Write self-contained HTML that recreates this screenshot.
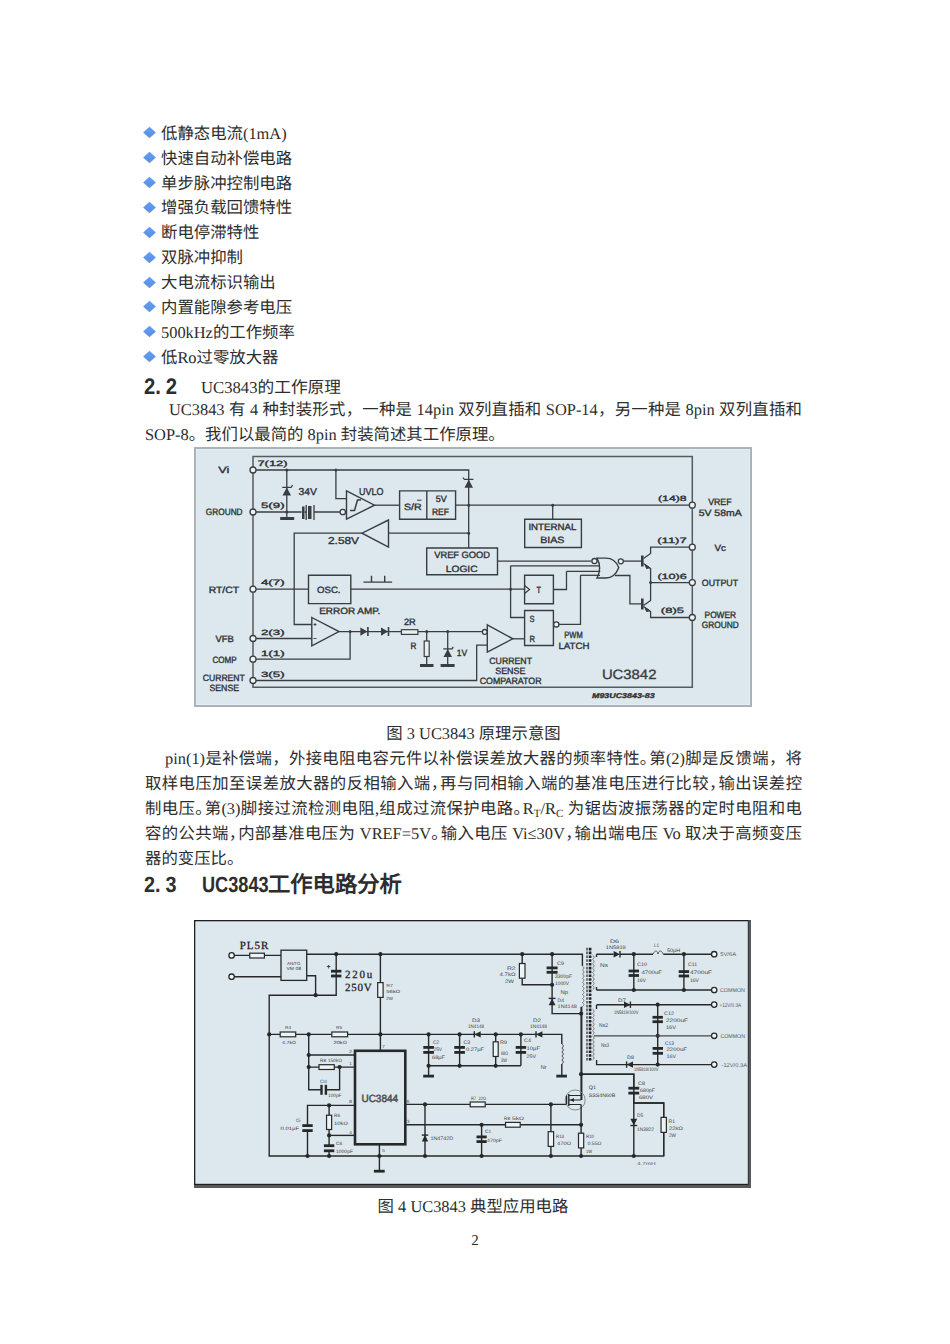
<!DOCTYPE html>
<html lang="zh-CN">
<head>
<meta charset="utf-8">
<style>
html,body{margin:0;padding:0;background:#fff;}
body{width:950px;height:1344px;position:relative;overflow:hidden;text-rendering:geometricPrecision;font-family:"Liberation Serif",serif;color:#2d2d2d;}
.l{position:absolute;left:145px;white-space:nowrap;font-size:16.4px;line-height:20px;height:20px;}
.j{width:657px;text-align:justify;text-align-last:justify;}
.dia{position:absolute;left:143px;width:12.7px;height:12px;}
.dia::before{content:"";position:absolute;left:1.85px;top:1.5px;width:9px;height:9px;background:linear-gradient(135deg,#64a0f5 0%,#5a92ea 65%,#7f95a8 100%);transform:scaleY(0.92) rotate(45deg);}
.hd{position:absolute;left:144px;white-space:nowrap;font-family:"Liberation Sans",sans-serif;font-weight:bold;font-size:22px;line-height:26px;height:26px;}
.h{font-family:"Liberation Sans",sans-serif;}
.c{left:0;width:950px;text-align:center;}
.p{letter-spacing:-0.45em;}
sub{font-size:11px;vertical-align:-2.5px;line-height:0;}
svg{position:absolute;display:block;}
</style>
</head>
<body>
<div class="dia" style="top:126.8px"></div>
<div class="l" style="left:161px;top:123.8px">低静态电流(1mA)</div>
<div class="dia" style="top:151.7px"></div>
<div class="l" style="left:161px;top:148.6px">快速自动补偿电路</div>
<div class="dia" style="top:176.5px"></div>
<div class="l" style="left:161px;top:173.5px">单步脉冲控制电路</div>
<div class="dia" style="top:201.4px"></div>
<div class="l" style="left:161px;top:198.4px">增强负载回馈特性</div>
<div class="dia" style="top:226.3px"></div>
<div class="l" style="left:161px;top:223.2px">断电停滞特性</div>
<div class="dia" style="top:251.2px"></div>
<div class="l" style="left:161px;top:248.1px">双脉冲抑制</div>
<div class="dia" style="top:276.0px"></div>
<div class="l" style="left:161px;top:273.0px">大电流标识输出</div>
<div class="dia" style="top:300.9px"></div>
<div class="l" style="left:161px;top:297.9px">内置能隙参考电压</div>
<div class="dia" style="top:325.8px"></div>
<div class="l" style="left:161px;top:322.7px">500kHz的工作频率</div>
<div class="dia" style="top:350.6px"></div>
<div class="l" style="left:161px;top:347.6px">低Ro过零放大器</div>
<div class="hd" style="top:373.9px;font-size:22.5px;transform:scaleX(0.9);transform-origin:0 0">2.<span style="margin-left:5.5px">2</span></div>
<div class="l" style="left:201px;font-size:16.7px;top:377.8px">UC3843的工作原理</div>
<div class="l j" style="left:169px;width:633px;top:399.9px">UC3843 有 4 种封装形式，一种是 14pin 双列直插和 SOP-14，另一种是 8pin 双列直插和</div>
<div class="l" style="top:425.0px">SOP-8。我们以最简的 8pin 封装简述其工作原理。</div>
<div class="l c" style="left:-1.5px;top:723.9px">图 3 UC3843 原理示意图</div>
<div class="l j" style="left:165px;width:637px;top:749.0px">pin(1)是补偿端，外接电阻电容元件以补偿误差放大器的频率特性<span class=p>。</span>第(2)脚是反馈端，将</div>
<div class="l j" style="top:773.8px">取样电压加至误差放大器的反相输入端<span class=p>，</span>再与同相输入端的基准电压进行比较<span class=p>，</span>输出误差控</div>
<div class="l j" style="top:798.9px">制电压<span class=p>。</span>第(3)脚接过流检测电阻,组成过流保护电路<span class=p>。</span>R<sub>T</sub>/R<sub>C</sub> 为锯齿波振荡器的定时电阻和电</div>
<div class="l j" style="top:823.7px">容的公共端<span class=p>，</span>内部基准电压为 VREF=5V<span class=p>。</span>输入电压 Vi≤30V<span class=p>，</span>输出端电压 Vo 取决于高频变压</div>
<div class="l" style="top:848.5px">器的变压比。</div>
<div class="hd" style="top:871.9px;font-size:22px;transform:scaleX(0.9);transform-origin:0 0">2.<span style="margin-left:5.5px">3</span></div>
<div class="hd" style="left:201.5px;top:871.9px;font-size:22px;transform:scaleX(0.825);transform-origin:0 0">UC3843</div>
<div class="hd" style="left:268px;top:872.2px;font-size:22.3px">工作电路分析</div>
<div class="l c" style="left:-2px;top:1196.9px">图 4 UC3843 典型应用电路</div>
<div class="l c" style="font-size:15px;top:1230.5px">2</div>
<svg style="left:194px;top:447px" width="558" height="260" viewBox="194 447 558 260" font-family="Liberation Sans, sans-serif"><rect x="194" y="447" width="558" height="260" fill="#abb3b8"/><rect x="196" y="449" width="554" height="256" fill="#e4edf1"/><rect x="197" y="450" width="552" height="254" fill="#dde8ee"/><path d="M253 456.5H692.3V687.3H253Z" stroke="#555a5e" stroke-width="1.5" fill="none"/><path d="M253 470H468.7V548" stroke="#3a3d40" stroke-width="1.3" fill="none"/><circle cx="286.8" cy="470" r="1.5" fill="#3a3d40"/><circle cx="335.9" cy="470" r="1.5" fill="#3a3d40"/><path d="M286.8 470V512" stroke="#3a3d40" stroke-width="1.3" fill="none"/><path d="M282.5 495.5H291L286.8 487.5Z" fill="#3a3d40"/><path d="M282.3 487.3H291.3M291.3 487.3l1.2 -2.2" stroke="#3a3d40" stroke-width="1.3" fill="none"/><text x="298.6" y="494.8" font-size="10" font-weight="normal" fill="#2e3134" stroke="#2e3134" stroke-width="0.35" textLength="18.4" lengthAdjust="spacingAndGlyphs" >34V</text><path d="M253 512H301.6" stroke="#3a3d40" stroke-width="1.3" fill="none"/><circle cx="286.8" cy="512" r="1.5" fill="#3a3d40"/><rect x="280.2" y="517" width="14" height="3" fill="#3a3d40"/><path d="M286.8 512V518" stroke="#3a3d40" stroke-width="1.3" fill="none"/><rect x="302" y="506.5" width="2.5" height="12.5" fill="#3a3d40"/><rect x="308" y="506" width="3.5" height="13" fill="#3a3d40"/><path d="M306.2 505V520" stroke="#3a3d40" stroke-width="1.3" fill="none"/><path d="M314 505V520" stroke="#3a3d40" stroke-width="1.3" fill="none"/><path d="M304.5 512H306.2M314 512H339.8" stroke="#3a3d40" stroke-width="1.3" fill="none"/><circle cx="342.8" cy="512" r="2.7" fill="#eef3f6" stroke="#3a3d40" stroke-width="1.3"/><path d="M335.9 470V498.6H346.5" stroke="#3a3d40" stroke-width="1.3" fill="none"/><path d="M346.5 490.9L374.5 505.2L346.5 519.2Z" stroke="#3a3d40" stroke-width="1.4" fill="none"/><path d="M350 510.5H354.5L357.5 500H361" stroke="#3a3d40" stroke-width="1.5" fill="none"/><text x="359" y="494.8" font-size="10" font-weight="normal" fill="#2e3134" stroke="#2e3134" stroke-width="0.35" textLength="24.4" lengthAdjust="spacingAndGlyphs" >UVLO</text><path d="M374.5 505.2H399.6" stroke="#3a3d40" stroke-width="1.3" fill="none"/><path d="M399.6 490.9H455.6V519.2H399.6Z" stroke="#3a3d40" stroke-width="1.4" fill="none"/><path d="M426.8 490.9V519.2" stroke="#3a3d40" stroke-width="1.4" fill="none"/><text x="404" y="509.9" font-size="9.2" font-weight="normal" fill="#2e3134" stroke="#2e3134" stroke-width="0.35" textLength="17.7" lengthAdjust="spacingAndGlyphs" >S/R</text><path d="M417 500.2H421.5" stroke="#3a3d40" stroke-width="1" fill="none"/><text x="435.7" y="502.0" font-size="9.2" font-weight="normal" fill="#2e3134" stroke="#2e3134" stroke-width="0.35" textLength="11.0" lengthAdjust="spacingAndGlyphs" >5V</text><text x="432" y="515.2" font-size="9.2" font-weight="normal" fill="#2e3134" stroke="#2e3134" stroke-width="0.35" textLength="16.9" lengthAdjust="spacingAndGlyphs" >REF</text><path d="M455.6 505.2H689.3" stroke="#3a3d40" stroke-width="1.3" fill="none"/><circle cx="468.7" cy="505.2" r="1.5" fill="#3a3d40"/><circle cx="468.7" cy="533.2" r="1.5" fill="#3a3d40"/><circle cx="552.7" cy="505.2" r="1.5" fill="#3a3d40"/><path d="M464.5 487.8H473L468.7 479.5Z" fill="#3a3d40"/><path d="M464 479.3H473.4M464 479.3l-1 -1.8" stroke="#3a3d40" stroke-width="1.3" fill="none"/><path d="M468.7 533.2H388.5" stroke="#3a3d40" stroke-width="1.3" fill="none"/><path d="M388.5 520L362 533.2L388.5 547.2Z" stroke="#3a3d40" stroke-width="1.4" fill="none"/><path d="M362 533.2H294.2V624.5H311.9" stroke="#3a3d40" stroke-width="1.3" fill="none"/><text x="328" y="544.2" font-size="10" font-weight="normal" fill="#2e3134" stroke="#2e3134" stroke-width="0.35" textLength="31.0" lengthAdjust="spacingAndGlyphs" >2.58V</text><path d="M552.7 505.2V519.2" stroke="#3a3d40" stroke-width="1.3" fill="none"/><path d="M524.7 519.2H581.4V547.5H524.7Z" stroke="#3a3d40" stroke-width="1.4" fill="none"/><text x="528.4" y="530.0" font-size="9.2" font-weight="normal" fill="#2e3134" stroke="#2e3134" stroke-width="0.35" textLength="47.9" lengthAdjust="spacingAndGlyphs" >INTERNAL</text><text x="540.2" y="543.2" font-size="9.2" font-weight="normal" fill="#2e3134" stroke="#2e3134" stroke-width="0.35" textLength="24.3" lengthAdjust="spacingAndGlyphs" >BIAS</text><path d="M426.7 548H497.5V574.7H426.7Z" stroke="#3a3d40" stroke-width="1.4" fill="none"/><text x="434.2" y="558.0" font-size="9.2" font-weight="normal" fill="#2e3134" stroke="#2e3134" stroke-width="0.35" textLength="55.9" lengthAdjust="spacingAndGlyphs" >VREF GOOD</text><text x="445.8" y="572.1" font-size="9.2" font-weight="normal" fill="#2e3134" stroke="#2e3134" stroke-width="0.35" textLength="31.7" lengthAdjust="spacingAndGlyphs" >LOGIC</text><path d="M497.5 561.1H591.5" stroke="#3a3d40" stroke-width="1.3" fill="none"/><circle cx="594.5" cy="561.1" r="2.6" fill="#eef3f6" stroke="#3a3d40" stroke-width="1.3"/><circle cx="692.3" cy="505.2" r="3.0" fill="#eef3f6" stroke="#3a3d40" stroke-width="1.3"/><text x="658" y="501.4" font-size="7.6" font-weight="normal" fill="#2e3134" stroke="#2e3134" stroke-width="0.35" textLength="28.7" lengthAdjust="spacingAndGlyphs" >(14)8</text><text x="708.2" y="505.4" font-size="9.2" font-weight="normal" fill="#2e3134" stroke="#2e3134" stroke-width="0.35" textLength="23.4" lengthAdjust="spacingAndGlyphs" >VREF</text><text x="698.7" y="516.1" font-size="9.2" font-weight="normal" fill="#2e3134" stroke="#2e3134" stroke-width="0.35" textLength="43.0" lengthAdjust="spacingAndGlyphs" >5V 58mA</text><circle cx="692.3" cy="547.2" r="3.0" fill="#eef3f6" stroke="#3a3d40" stroke-width="1.3"/><text x="657.3" y="543.4" font-size="7.6" font-weight="normal" fill="#2e3134" stroke="#2e3134" stroke-width="0.35" textLength="29.4" lengthAdjust="spacingAndGlyphs" >(11)7</text><text x="714.5" y="550.8" font-size="9.2" font-weight="normal" fill="#2e3134" stroke="#2e3134" stroke-width="0.35" textLength="11.4" lengthAdjust="spacingAndGlyphs" >Vc</text><circle cx="692.3" cy="582.6" r="3.0" fill="#eef3f6" stroke="#3a3d40" stroke-width="1.3"/><text x="657.4" y="578.5" font-size="7.6" font-weight="normal" fill="#2e3134" stroke="#2e3134" stroke-width="0.35" textLength="29.4" lengthAdjust="spacingAndGlyphs" >(10)6</text><text x="701.8" y="586.0" font-size="9.2" font-weight="normal" fill="#2e3134" stroke="#2e3134" stroke-width="0.35" textLength="36.3" lengthAdjust="spacingAndGlyphs" >OUTPUT</text><circle cx="692.3" cy="617.5" r="3.0" fill="#eef3f6" stroke="#3a3d40" stroke-width="1.3"/><text x="660.8" y="613.4" font-size="7.6" font-weight="normal" fill="#2e3134" stroke="#2e3134" stroke-width="0.35" textLength="23.2" lengthAdjust="spacingAndGlyphs" >(8)5</text><text x="704.6" y="618.1" font-size="9.2" font-weight="normal" fill="#2e3134" stroke="#2e3134" stroke-width="0.35" textLength="31.4" lengthAdjust="spacingAndGlyphs" >POWER</text><text x="701.8" y="627.7" font-size="9.2" font-weight="normal" fill="#2e3134" stroke="#2e3134" stroke-width="0.35" textLength="37.0" lengthAdjust="spacingAndGlyphs" >GROUND</text><path d="M689.3 547.2H650.6V553.5L643.5 558.5" stroke="#3a3d40" stroke-width="1.3" fill="none"/><path d="M619.7 561.1H642" stroke="#3a3d40" stroke-width="1.3" fill="none"/><rect x="641" y="555.5" width="2.6" height="11" fill="#3a3d40"/><path d="M643.5 563.5L650.6 568.5V600.5L643.5 605.5" stroke="#3a3d40" stroke-width="1.3" fill="none"/><path d="M645 564.5L650 567.8L646.5 568.5Z" fill="#3a3d40" stroke="#3a3d40" stroke-width="1"/><circle cx="650.6" cy="582.6" r="1.5" fill="#3a3d40"/><path d="M650.6 582.6H689.3" stroke="#3a3d40" stroke-width="1.3" fill="none"/><path d="M615 575.5H629.9V603.8H642" stroke="#3a3d40" stroke-width="1.3" fill="none"/><rect x="641" y="598.5" width="2.6" height="11" fill="#3a3d40"/><path d="M643.5 606.5L650.6 611.5V617.5H689.3" stroke="#3a3d40" stroke-width="1.3" fill="none"/><path d="M645 607.5L650 610.8L646.5 611.5Z" fill="#3a3d40" stroke="#3a3d40" stroke-width="1"/><path d="M597 558.1H606C612 558.1 616.5 562 618.8 567.5C616.5 573.5 612 578 606 578H597C600.5 572 600.5 564 597 558.1Z" stroke="#3a3d40" stroke-width="1.4" fill="none"/><circle cx="620.8" cy="561.3" r="2.5" fill="#eef3f6" stroke="#3a3d40" stroke-width="1.3"/><path d="M510.6 565.8H599.5" stroke="#3a3d40" stroke-width="1.3" fill="none"/><path d="M566.5 571.4H600.3" stroke="#3a3d40" stroke-width="1.3" fill="none"/><path d="M580.5 575.3H600" stroke="#3a3d40" stroke-width="1.3" fill="none"/><circle cx="253" cy="589.2" r="3.0" fill="#eef3f6" stroke="#3a3d40" stroke-width="1.3"/><text x="208.7" y="592.6" font-size="9.2" font-weight="normal" fill="#2e3134" stroke="#2e3134" stroke-width="0.35" textLength="30.3" lengthAdjust="spacingAndGlyphs" >RT/CT</text><text x="261" y="585.3" font-size="7.6" font-weight="normal" fill="#2e3134" stroke="#2e3134" stroke-width="0.35" textLength="23.6" lengthAdjust="spacingAndGlyphs" >4(7)</text><path d="M256 589.2H308.5" stroke="#3a3d40" stroke-width="1.3" fill="none"/><path d="M308.5 575.2H350.8V603.6H308.5Z" stroke="#3a3d40" stroke-width="1.4" fill="none"/><text x="317" y="593.3" font-size="9.2" font-weight="normal" fill="#2e3134" stroke="#2e3134" stroke-width="0.35" textLength="23.5" lengthAdjust="spacingAndGlyphs" >OSC.</text><path d="M350.8 589.2H524.6" stroke="#3a3d40" stroke-width="1.3" fill="none"/><path d="M363.4 582.1H392.1M371.5 582.1V575.8M384.7 582.1V575.8" stroke="#3a3d40" stroke-width="1.4" fill="none"/><circle cx="510.6" cy="589.2" r="1.5" fill="#3a3d40"/><path d="M510.6 565.8V617.5H524.6" stroke="#3a3d40" stroke-width="1.3" fill="none"/><path d="M524.6 575.2H553.4V603.8H524.6Z" stroke="#3a3d40" stroke-width="1.4" fill="none"/><path d="M524.6 585.5L529.5 589.5L524.6 593.5" stroke="#3a3d40" stroke-width="1.2" fill="none"/><text x="536.5" y="592.8" font-size="9" font-weight="normal" fill="#2e3134" stroke="#2e3134" stroke-width="0.35" textLength="4.5" lengthAdjust="spacingAndGlyphs" >T</text><path d="M553.4 589.5H566.5V571.4" stroke="#3a3d40" stroke-width="1.3" fill="none"/><path d="M524.6 610.5H553.4V645.5H524.6Z" stroke="#3a3d40" stroke-width="1.4" fill="none"/><text x="529.5" y="621.5" font-size="9" font-weight="normal" fill="#2e3134" stroke="#2e3134" stroke-width="0.35" textLength="5.0" lengthAdjust="spacingAndGlyphs" >S</text><text x="529.5" y="642.1" font-size="9" font-weight="normal" fill="#2e3134" stroke="#2e3134" stroke-width="0.35" textLength="5.5" lengthAdjust="spacingAndGlyphs" >R</text><circle cx="556.3" cy="624.4" r="2.6" fill="#eef3f6" stroke="#3a3d40" stroke-width="1.3"/><path d="M559 624.4H580.5V575.3" stroke="#3a3d40" stroke-width="1.3" fill="none"/><text x="564.3" y="638.1" font-size="9.2" font-weight="normal" fill="#2e3134" stroke="#2e3134" stroke-width="0.35" textLength="18.4" lengthAdjust="spacingAndGlyphs" >PWM</text><text x="558.4" y="649.2" font-size="9.2" font-weight="normal" fill="#2e3134" stroke="#2e3134" stroke-width="0.35" textLength="31.0" lengthAdjust="spacingAndGlyphs" >LATCH</text><text x="319.2" y="614.4" font-size="9.2" font-weight="normal" fill="#2e3134" stroke="#2e3134" stroke-width="0.35" textLength="61.1" lengthAdjust="spacingAndGlyphs" >ERROR AMP.</text><path d="M311.8 617.5L339 631.6L311.8 645.9Z" stroke="#3a3d40" stroke-width="1.4" fill="none"/><path d="M313.5 624.5h3M315 623v3M313.5 638.5h3" stroke="#3a3d40" stroke-width="0.9" fill="none"/><circle cx="253" cy="638.5" r="3.0" fill="#eef3f6" stroke="#3a3d40" stroke-width="1.3"/><text x="215.4" y="641.9" font-size="9.2" font-weight="normal" fill="#2e3134" stroke="#2e3134" stroke-width="0.35" textLength="18.4" lengthAdjust="spacingAndGlyphs" >VFB</text><text x="261" y="634.7" font-size="7.6" font-weight="normal" fill="#2e3134" stroke="#2e3134" stroke-width="0.35" textLength="23.6" lengthAdjust="spacingAndGlyphs" >2(3)</text><path d="M256 638.5H311.8" stroke="#3a3d40" stroke-width="1.3" fill="none"/><path d="M339 631.6H482" stroke="#3a3d40" stroke-width="1.3" fill="none"/><circle cx="350.1" cy="631.6" r="1.5" fill="#3a3d40"/><path d="M350.1 631.6V659.2H256" stroke="#3a3d40" stroke-width="1.3" fill="none"/><circle cx="253" cy="659.2" r="3.0" fill="#eef3f6" stroke="#3a3d40" stroke-width="1.3"/><text x="212.4" y="662.6" font-size="9.2" font-weight="normal" fill="#2e3134" stroke="#2e3134" stroke-width="0.35" textLength="24.3" lengthAdjust="spacingAndGlyphs" >COMP</text><text x="261" y="656.1" font-size="7.6" font-weight="normal" fill="#2e3134" stroke="#2e3134" stroke-width="0.35" textLength="23.6" lengthAdjust="spacingAndGlyphs" >1(1)</text><path d="M360.4 627.5L367.4 631.6L360.4 635.7Z" fill="#3a3d40"/><path d="M367.9 627V636" stroke="#3a3d40" stroke-width="1.6" fill="none"/><path d="M381 627.5L388 631.6L381 635.7Z" fill="#3a3d40"/><path d="M388.5 627V636" stroke="#3a3d40" stroke-width="1.6" fill="none"/><rect x="401.4" y="629.7" width="16.5" height="4.7" fill="#e8eff3" stroke="#3a3d40" stroke-width="1.2"/><text x="403.9" y="625.0" font-size="9.2" font-weight="normal" fill="#2e3134" stroke="#2e3134" stroke-width="0.35" textLength="11.8" lengthAdjust="spacingAndGlyphs" >2R</text><circle cx="426.7" cy="631.6" r="1.5" fill="#3a3d40"/><circle cx="447.7" cy="631.6" r="1.5" fill="#3a3d40"/><path d="M426.7 631.6V666M447.7 631.6V666" stroke="#3a3d40" stroke-width="1.3" fill="none"/><rect x="424.2" y="641" width="5" height="15.5" fill="#e8eff3" stroke="#3a3d40" stroke-width="1.2"/><text x="410.5" y="649.3" font-size="9.2" font-weight="normal" fill="#2e3134" stroke="#2e3134" stroke-width="0.35" textLength="5.9" lengthAdjust="spacingAndGlyphs" >R</text><rect x="420" y="664" width="13.5" height="3" fill="#3a3d40"/><rect x="440.6" y="664" width="14" height="3" fill="#3a3d40"/><path d="M443.5 657H452L447.7 649Z" fill="#3a3d40"/><path d="M443.3 648.8H452.2l1 -2" stroke="#3a3d40" stroke-width="1.3" fill="none"/><text x="456.8" y="656.2" font-size="9.2" font-weight="normal" fill="#2e3134" stroke="#2e3134" stroke-width="0.35" textLength="10.4" lengthAdjust="spacingAndGlyphs" >1V</text><circle cx="484.8" cy="631.9" r="2.4" fill="#eef3f6" stroke="#3a3d40" stroke-width="1.3"/><path d="M487.3 624.8L512.8 638.8L487.3 652.1Z" stroke="#3a3d40" stroke-width="1.4" fill="none"/><path d="M512.8 638.8H524.6" stroke="#3a3d40" stroke-width="1.3" fill="none"/><path d="M487.3 645.2H476.7V680.5H256" stroke="#3a3d40" stroke-width="1.3" fill="none"/><circle cx="253" cy="680.5" r="3.0" fill="#eef3f6" stroke="#3a3d40" stroke-width="1.3"/><text x="202.8" y="681.0" font-size="9.2" font-weight="normal" fill="#2e3134" stroke="#2e3134" stroke-width="0.35" textLength="42.0" lengthAdjust="spacingAndGlyphs" >CURRENT</text><text x="209.5" y="691.3" font-size="9.2" font-weight="normal" fill="#2e3134" stroke="#2e3134" stroke-width="0.35" textLength="29.5" lengthAdjust="spacingAndGlyphs" >SENSE</text><text x="261" y="676.7" font-size="7.6" font-weight="normal" fill="#2e3134" stroke="#2e3134" stroke-width="0.35" textLength="23.6" lengthAdjust="spacingAndGlyphs" >3(5)</text><text x="489.3" y="663.6" font-size="9.2" font-weight="normal" fill="#2e3134" stroke="#2e3134" stroke-width="0.35" textLength="42.7" lengthAdjust="spacingAndGlyphs" >CURRENT</text><text x="495.2" y="673.9" font-size="9.2" font-weight="normal" fill="#2e3134" stroke="#2e3134" stroke-width="0.35" textLength="30.2" lengthAdjust="spacingAndGlyphs" >SENSE</text><text x="479.7" y="684.2" font-size="9.2" font-weight="normal" fill="#2e3134" stroke="#2e3134" stroke-width="0.35" textLength="61.9" lengthAdjust="spacingAndGlyphs" >COMPARATOR</text><text x="601.9" y="679.1" font-size="13.5" font-weight="normal" fill="#3a3d40" stroke="#3a3d40" stroke-width="0.35" textLength="54.5" lengthAdjust="spacingAndGlyphs" >UC3842</text><circle cx="253" cy="470" r="3.0" fill="#eef3f6" stroke="#3a3d40" stroke-width="1.3"/><circle cx="253" cy="512" r="3.0" fill="#eef3f6" stroke="#3a3d40" stroke-width="1.3"/><text x="218.3" y="473.4" font-size="9.2" font-weight="normal" fill="#2e3134" stroke="#2e3134" stroke-width="0.35" textLength="11.1" lengthAdjust="spacingAndGlyphs" >Vi</text><text x="257.4" y="466.0" font-size="7.6" font-weight="normal" fill="#2e3134" stroke="#2e3134" stroke-width="0.35" textLength="30.2" lengthAdjust="spacingAndGlyphs" >7(12)</text><text x="205.8" y="515.4" font-size="9.2" font-weight="normal" fill="#2e3134" stroke="#2e3134" stroke-width="0.35" textLength="36.8" lengthAdjust="spacingAndGlyphs" >GROUND</text><text x="261" y="508.0" font-size="7.6" font-weight="normal" fill="#2e3134" stroke="#2e3134" stroke-width="0.35" textLength="23.6" lengthAdjust="spacingAndGlyphs" >5(9)</text><text x="592" y="697.6" font-size="7" font-weight="bold" fill="#333" stroke="#333" stroke-width="0.35" textLength="62.7" lengthAdjust="spacingAndGlyphs" font-style="italic">M93UC3843-83</text></svg>
<svg style="left:194px;top:920px" width="558" height="269" viewBox="194 920 558 269" font-family="Liberation Sans, sans-serif"><rect x="194" y="920" width="557" height="268" fill="#55595c"/><rect x="194" y="920" width="554.5" height="265" fill="#1e1f20"/><rect x="195.3" y="921.3" width="552.5" height="262.5" fill="#dde8ee"/><circle cx="231.6" cy="955.4" r="2.7" fill="#f2f6f8" stroke="#262829" stroke-width="1.3"/><circle cx="231.6" cy="976.7" r="2.7" fill="#f2f6f8" stroke="#262829" stroke-width="1.3"/><path d="M234.3 955.4H249.7M264.4 955.4H281" stroke="#262829" stroke-width="1.4" fill="none"/><rect x="249.7" y="953.2" width="14.699999999999989" height="4.8" fill="#eef3f6" stroke="#262829" stroke-width="1.2"/><path d="M234.3 976.7H281" stroke="#262829" stroke-width="1.4" fill="none"/><rect x="281" y="950.2" width="25.7" height="30.2" fill="none" stroke="#262829" stroke-width="1.3"/><text x="287" y="965.1" font-size="4.5" font-weight="normal" fill="#3c3c3c" textLength="13.5" lengthAdjust="spacingAndGlyphs" >AN/TG</text><text x="286.5" y="969.6" font-size="4.5" font-weight="normal" fill="#3c3c3c" textLength="14.5" lengthAdjust="spacingAndGlyphs" >VM 08</text><text x="239.7" y="948.8" font-size="11" font-weight="normal" fill="#1a1a1a" textLength="28.7" lengthAdjust="spacing" font-family="Liberation Serif" stroke="#1a1a1a" stroke-width="0.25">PL5R</text><path d="M306.7 954.2H582.4V966" stroke="#262829" stroke-width="1.4" fill="none"/><path d="M306.7 975.7H315.6V995.2" stroke="#262829" stroke-width="1.4" fill="none"/><circle cx="315.6" cy="995.2" r="2.1" fill="#262829"/><circle cx="336.2" cy="954.2" r="2.1" fill="#262829"/><circle cx="380.4" cy="954.2" r="2.1" fill="#262829"/><path d="M336.2 954.2V995.2H269.2V1156H663.7V1103H633.8V1074.2H581.1" stroke="#262829" stroke-width="1.4" fill="none"/><rect x="331.0" y="969.8000000000001" width="10.4" height="2.8" fill="#262829"/><rect x="331.0" y="974.6" width="10.4" height="2.8" fill="#262829"/><text x="326.5" y="968.5" font-size="7" font-weight="bold" fill="#222">+</text><text x="345" y="977.8" font-size="11" font-weight="normal" fill="#1a1a1a" textLength="27.3" lengthAdjust="spacing" font-family="Liberation Serif" stroke="#1a1a1a" stroke-width="0.25">220u</text><text x="345" y="991.0" font-size="11" font-weight="normal" fill="#1a1a1a" textLength="26.6" lengthAdjust="spacing" font-family="Liberation Serif" stroke="#1a1a1a" stroke-width="0.25">250V</text><path d="M380.4 954.2V1050.6" stroke="#262829" stroke-width="1.4" fill="none"/><rect x="377.7" y="982.6" width="5.4" height="14.799999999999955" fill="#eef3f6" stroke="#262829" stroke-width="1.2"/><text x="386.3" y="986.6" font-size="4.5" font-weight="normal" fill="#3c3c3c" textLength="6.7" lengthAdjust="spacingAndGlyphs" >R7</text><text x="386.3" y="992.6" font-size="4.5" font-weight="normal" fill="#3c3c3c" textLength="14.0" lengthAdjust="spacingAndGlyphs" >56kΩ</text><text x="386.3" y="999.6" font-size="4.5" font-weight="normal" fill="#3c3c3c" textLength="6.7" lengthAdjust="spacingAndGlyphs" >2W</text><path d="M269.2 1034.4H280.2M295.7 1034.4H331.8M347.6 1034.4H561.8V1044" stroke="#262829" stroke-width="1.4" fill="none"/><rect x="280.2" y="1032.0" width="15.5" height="4.8" fill="#eef3f6" stroke="#262829" stroke-width="1.2"/><rect x="331.8" y="1032.0" width="15.800000000000011" height="4.8" fill="#eef3f6" stroke="#262829" stroke-width="1.2"/><text x="285" y="1029.2" font-size="4.5" font-weight="normal" fill="#3c3c3c" textLength="6.0" lengthAdjust="spacingAndGlyphs" >R4</text><text x="282" y="1044.1" font-size="4.5" font-weight="normal" fill="#3c3c3c" textLength="14.0" lengthAdjust="spacingAndGlyphs" >4.7kΩ</text><text x="336" y="1029.2" font-size="4.5" font-weight="normal" fill="#3c3c3c" textLength="6.0" lengthAdjust="spacingAndGlyphs" >R5</text><text x="333.5" y="1044.1" font-size="4.5" font-weight="normal" fill="#3c3c3c" textLength="13.5" lengthAdjust="spacingAndGlyphs" >20kΩ</text><circle cx="269.2" cy="1034.4" r="2.1" fill="#262829"/><circle cx="308.7" cy="1034.4" r="2.1" fill="#262829"/><circle cx="380.4" cy="1034.4" r="2.1" fill="#262829"/><circle cx="428.6" cy="1034.4" r="2.1" fill="#262829"/><circle cx="459.6" cy="1034.4" r="2.1" fill="#262829"/><circle cx="495.7" cy="1034.4" r="2.1" fill="#262829"/><circle cx="520.9" cy="1034.4" r="2.1" fill="#262829"/><path d="M480.7 1031.2L474.3 1034.4L480.7 1037.6000000000001Z" fill="#262829"/><path d="M474.3 1031.2V1037.6000000000001" stroke="#262829" stroke-width="1.4" fill="none"/><path d="M542.4000000000001 1031.2L536.0 1034.4L542.4000000000001 1037.6000000000001Z" fill="#262829"/><path d="M536.0 1031.2V1037.6000000000001" stroke="#262829" stroke-width="1.4" fill="none"/><text x="472" y="1022.0" font-size="5" font-weight="normal" fill="#3c3c3c" textLength="8.0" lengthAdjust="spacingAndGlyphs" >D3</text><text x="468" y="1027.9" font-size="5" font-weight="normal" fill="#3c3c3c" textLength="16.0" lengthAdjust="spacingAndGlyphs" >1N4148</text><text x="533" y="1022.0" font-size="5" font-weight="normal" fill="#3c3c3c" textLength="8.0" lengthAdjust="spacingAndGlyphs" >D2</text><text x="530" y="1027.9" font-size="5" font-weight="normal" fill="#3c3c3c" textLength="17.0" lengthAdjust="spacingAndGlyphs" >1N4148</text><path d="M428.6 1034.4V1076" stroke="#262829" stroke-width="1.4" fill="none"/><rect x="423.3" y="1046.0" width="10.6" height="2.8" fill="#262829"/><rect x="423.3" y="1051.0" width="10.6" height="2.8" fill="#262829"/><rect x="423.20000000000005" y="1074.6999999999998" width="10.8" height="2.8" fill="#262829"/><path d="M459.6 1034.4V1065.8" stroke="#262829" stroke-width="1.4" fill="none"/><rect x="454.3" y="1046.0" width="10.6" height="2.8" fill="#262829"/><rect x="454.3" y="1051.0" width="10.6" height="2.8" fill="#262829"/><path d="M495.7 1034.4V1065.8" stroke="#262829" stroke-width="1.4" fill="none"/><rect x="493.2" y="1041.8" width="5" height="14.700000000000045" fill="#eef3f6" stroke="#262829" stroke-width="1.2"/><path d="M520.9 1034.4V1065.8" stroke="#262829" stroke-width="1.4" fill="none"/><rect x="515.6999999999999" y="1046.0" width="10.4" height="2.8" fill="#262829"/><rect x="515.6999999999999" y="1051.0" width="10.4" height="2.8" fill="#262829"/><path d="M428.6 1065.8H520.9" stroke="#262829" stroke-width="1.4" fill="none"/><circle cx="428.6" cy="1065.8" r="2.1" fill="#262829"/><circle cx="459.6" cy="1065.8" r="2.1" fill="#262829"/><circle cx="495.7" cy="1065.8" r="2.1" fill="#262829"/><text x="433" y="1043.8" font-size="5" font-weight="normal" fill="#3c3c3c" textLength="6.0" lengthAdjust="spacingAndGlyphs" >C2</text><text x="433.5" y="1051.3" font-size="5" font-weight="normal" fill="#3c3c3c" textLength="8.5" lengthAdjust="spacingAndGlyphs" >25V</text><text x="432" y="1058.8" font-size="5" font-weight="normal" fill="#3c3c3c" textLength="13.0" lengthAdjust="spacingAndGlyphs" >68μF</text><text x="463.5" y="1043.8" font-size="5" font-weight="normal" fill="#3c3c3c" textLength="6.5" lengthAdjust="spacingAndGlyphs" >C3</text><text x="466" y="1051.3" font-size="5" font-weight="normal" fill="#3c3c3c" textLength="18.0" lengthAdjust="spacingAndGlyphs" >0.27μF</text><text x="500" y="1043.8" font-size="5" font-weight="normal" fill="#3c3c3c" textLength="7.0" lengthAdjust="spacingAndGlyphs" >R9</text><text x="501" y="1055.3" font-size="5" font-weight="normal" fill="#3c3c3c" textLength="7.0" lengthAdjust="spacingAndGlyphs" >68Ω</text><text x="501" y="1061.8" font-size="5" font-weight="normal" fill="#3c3c3c" textLength="6.0" lengthAdjust="spacingAndGlyphs" >3W</text><text x="524" y="1042.3" font-size="5" font-weight="normal" fill="#3c3c3c" textLength="7.0" lengthAdjust="spacingAndGlyphs" >C4</text><text x="526.5" y="1050.3" font-size="5" font-weight="normal" fill="#3c3c3c" textLength="13.5" lengthAdjust="spacingAndGlyphs" >10μF</text><text x="526.5" y="1057.8" font-size="5" font-weight="normal" fill="#3c3c3c" textLength="9.5" lengthAdjust="spacingAndGlyphs" >25V</text><path d="M561.8 1044q3.2 2.0 0 4.0q3.2 2.0 0 4.0q3.2 2.0 0 4.0q3.2 2.0 0 4.0q3.2 2.0 0 4.0" stroke="#555" stroke-width="1.0" fill="none"/><path d="M561.8 1064V1076" stroke="#262829" stroke-width="1.4" fill="none"/><rect x="556.3000000000001" y="1074.6999999999998" width="10.6" height="2.8" fill="#262829"/><text x="540.8" y="1068.5" font-size="5.5" font-weight="normal" fill="#444" textLength="5.9" lengthAdjust="spacingAndGlyphs" >Nr</text><path d="M522.2 954.2V963.5M522.2 978.2V984.8H552.1" stroke="#262829" stroke-width="1.4" fill="none"/><rect x="519.4000000000001" y="963.5" width="5.6" height="14.700000000000045" fill="#eef3f6" stroke="#262829" stroke-width="1.2"/><circle cx="522.2" cy="954.2" r="2.1" fill="#262829"/><circle cx="552.1" cy="954.2" r="2.1" fill="#262829"/><circle cx="552.1" cy="984.8" r="2.1" fill="#262829"/><path d="M552.1 954.2V1013.6H581.1" stroke="#262829" stroke-width="1.4" fill="none"/><rect x="546.6" y="966.5" width="11.0" height="2.8" fill="#262829"/><rect x="546.6" y="970.9" width="11.0" height="2.8" fill="#262829"/><path d="M548.7 1005.1999999999999L552.1 998.4L555.5 1005.1999999999999Z" fill="#262829"/><path d="M548.7 998.4H555.5" stroke="#262829" stroke-width="1.4" fill="none"/><circle cx="581.1" cy="1013.6" r="2.1" fill="#262829"/><text x="507" y="969.8" font-size="5" font-weight="normal" fill="#3c3c3c" textLength="8.6" lengthAdjust="spacingAndGlyphs" >R2</text><text x="499.5" y="976.3" font-size="5" font-weight="normal" fill="#3c3c3c" textLength="16.1" lengthAdjust="spacingAndGlyphs" >4.7kΩ</text><text x="505" y="982.8" font-size="5" font-weight="normal" fill="#3c3c3c" textLength="9.0" lengthAdjust="spacingAndGlyphs" >2W</text><text x="557" y="964.5" font-size="5" font-weight="normal" fill="#3c3c3c" textLength="7.0" lengthAdjust="spacingAndGlyphs" >C9</text><text x="555" y="978.2" font-size="5" font-weight="normal" fill="#3c3c3c" textLength="17.0" lengthAdjust="spacingAndGlyphs" >3300pF</text><text x="555" y="984.8" font-size="5" font-weight="normal" fill="#3c3c3c" textLength="14.0" lengthAdjust="spacingAndGlyphs" >1000V</text><text x="560.5" y="993.5" font-size="5.5" font-weight="normal" fill="#444" textLength="7.5" lengthAdjust="spacingAndGlyphs" >Np</text><text x="557.6" y="1002.1" font-size="5" font-weight="normal" fill="#3c3c3c" textLength="6.4" lengthAdjust="spacingAndGlyphs" >D4</text><text x="557.6" y="1008.0" font-size="5" font-weight="normal" fill="#3c3c3c" textLength="19.1" lengthAdjust="spacingAndGlyphs" >1N4148</text><path d="M582.4 966q3.2 2.0350000000000024 0 4.070000000000005q3.2 2.0350000000000024 0 4.070000000000005q3.2 2.0350000000000024 0 4.070000000000005q3.2 2.0350000000000024 0 4.070000000000005q3.2 2.0350000000000024 0 4.070000000000005q3.2 2.0350000000000024 0 4.070000000000005q3.2 2.0350000000000024 0 4.070000000000005q3.2 2.0350000000000024 0 4.070000000000005q3.2 2.0350000000000024 0 4.070000000000005q3.2 2.0350000000000024 0 4.070000000000005" stroke="#777" stroke-width="1.0" fill="none"/><path d="M581.4 1006.7V1100" stroke="#262829" stroke-width="2.0" fill="none"/><path d="M587.2 947.8V1060.8" stroke="#6b6f72" stroke-width="2.4" stroke-dasharray="2.6 1.2"/><path d="M590.2 947.8V1060.8" stroke="#1e1f20" stroke-width="2.4" stroke-dasharray="2.6 1.2"/><path d="M596.5 954.2H613.6M620 954.2H653M663.3 954.2H711.4" stroke="#262829" stroke-width="1.4" fill="none"/><path d="M592.5 955q3.2 2.1875 0 4.375q3.2 2.1875 0 4.375q3.2 2.1875 0 4.375q3.2 2.1875 0 4.375q3.2 2.1875 0 4.375q3.2 2.1875 0 4.375q3.2 2.1875 0 4.375q3.2 2.1875 0 4.375" stroke="#777" stroke-width="1.0" fill="none"/><path d="M596.5 990H711.4" stroke="#262829" stroke-width="1.4" fill="none"/><path d="M596.5 954.2V957M596.5 987V990" stroke="#262829" stroke-width="1.4" fill="none"/><path d="M613.5999999999999 951.0L620.0 954.2L613.5999999999999 957.4000000000001Z" fill="#262829"/><path d="M620.0 951.0V957.4000000000001" stroke="#262829" stroke-width="1.4" fill="none"/><text x="610" y="943.2" font-size="5" font-weight="normal" fill="#3c3c3c" textLength="9.0" lengthAdjust="spacingAndGlyphs" >D6</text><text x="605.8" y="949.1" font-size="5" font-weight="normal" fill="#3c3c3c" textLength="19.9" lengthAdjust="spacingAndGlyphs" >1N5819</text><text x="600" y="967.0" font-size="5.5" font-weight="normal" fill="#444" textLength="8.0" lengthAdjust="spacingAndGlyphs" >Ns</text><circle cx="633.8" cy="954.2" r="2.1" fill="#262829"/><circle cx="633.8" cy="990" r="2.1" fill="#262829"/><path d="M633.8 954.2V990" stroke="#262829" stroke-width="1.4" fill="none"/><rect x="628.5999999999999" y="969.6" width="10.4" height="2.8" fill="#262829"/><rect x="628.5999999999999" y="974.1" width="10.4" height="2.8" fill="#262829"/><text x="637" y="966.0" font-size="5" font-weight="normal" fill="#3c3c3c" textLength="10.0" lengthAdjust="spacingAndGlyphs" >C10</text><text x="641.5" y="974.1" font-size="5" font-weight="normal" fill="#3c3c3c" textLength="20.5" lengthAdjust="spacingAndGlyphs" >4700uF</text><text x="637" y="982.2" font-size="5" font-weight="normal" fill="#3c3c3c" textLength="9.0" lengthAdjust="spacingAndGlyphs" >16V</text><path d="M653 954C655 950 657 950 658 954C659 950 661 950 663.3 954" stroke="#555" stroke-width="1.0" fill="none"/><text x="654" y="946.8" font-size="5" font-weight="normal" fill="#3c3c3c" textLength="5.0" lengthAdjust="spacingAndGlyphs" >L1</text><text x="667" y="952.0" font-size="5" font-weight="normal" fill="#3c3c3c" textLength="13.2" lengthAdjust="spacingAndGlyphs" >50μH</text><circle cx="683.9" cy="954.2" r="2.1" fill="#262829"/><circle cx="683.9" cy="990" r="2.1" fill="#262829"/><path d="M683.9 954.2V990" stroke="#262829" stroke-width="1.4" fill="none"/><rect x="678.6999999999999" y="970.2" width="10.4" height="2.8" fill="#262829"/><rect x="678.6999999999999" y="974.6" width="10.4" height="2.8" fill="#262829"/><text x="688" y="966.0" font-size="5" font-weight="normal" fill="#3c3c3c" textLength="9.0" lengthAdjust="spacingAndGlyphs" >C11</text><text x="690" y="973.8" font-size="5" font-weight="normal" fill="#3c3c3c" textLength="22.0" lengthAdjust="spacingAndGlyphs" >4700uF</text><text x="690" y="982.2" font-size="5" font-weight="normal" fill="#3c3c3c" textLength="9.0" lengthAdjust="spacingAndGlyphs" >16V</text><circle cx="714.2" cy="954.2" r="2.7" fill="#f2f6f8" stroke="#262829" stroke-width="1.3"/><circle cx="714.2" cy="990" r="2.7" fill="#f2f6f8" stroke="#262829" stroke-width="1.3"/><circle cx="714.2" cy="1004.6" r="2.7" fill="#f2f6f8" stroke="#262829" stroke-width="1.3"/><circle cx="714.2" cy="1035.8" r="2.7" fill="#f2f6f8" stroke="#262829" stroke-width="1.3"/><circle cx="714.2" cy="1064.6" r="2.7" fill="#f2f6f8" stroke="#262829" stroke-width="1.3"/><text x="720.2" y="956.2" font-size="5.5" font-weight="normal" fill="#5a5a5a" textLength="16.0" lengthAdjust="spacingAndGlyphs" >5V/6A</text><text x="720" y="992.0" font-size="5.5" font-weight="normal" fill="#5a5a5a" textLength="25.0" lengthAdjust="spacingAndGlyphs" >COMMON</text><text x="719.5" y="1006.6" font-size="5.5" font-weight="normal" fill="#5a5a5a" textLength="21.5" lengthAdjust="spacingAndGlyphs" >+12V/0.3A</text><text x="720.5" y="1037.8" font-size="5.5" font-weight="normal" fill="#5a5a5a" textLength="24.5" lengthAdjust="spacingAndGlyphs" >COMMON</text><text x="721.5" y="1066.6" font-size="5.5" font-weight="normal" fill="#5a5a5a" textLength="25.5" lengthAdjust="spacingAndGlyphs" >-12V/0.3A</text><path d="M596.5 1005V1009M596.5 1004.7H711.4" stroke="#262829" stroke-width="1.4" fill="none"/><path d="M624.0 1001.5L630.4000000000001 1004.7L624.0 1007.9000000000001Z" fill="#262829"/><path d="M630.4000000000001 1001.5V1007.9000000000001" stroke="#262829" stroke-width="1.4" fill="none"/><path d="M592.5 1009q3.2 2.1666666666666665 0 4.333333333333333q3.2 2.1666666666666665 0 4.333333333333333q3.2 2.1666666666666665 0 4.333333333333333q3.2 2.1666666666666665 0 4.333333333333333q3.2 2.1666666666666665 0 4.333333333333333q3.2 2.1666666666666665 0 4.333333333333333" stroke="#777" stroke-width="1.0" fill="none"/><text x="618" y="1002.1" font-size="5" font-weight="normal" fill="#3c3c3c" textLength="8.0" lengthAdjust="spacingAndGlyphs" >D7</text><text x="614" y="1013.9" font-size="5" font-weight="normal" fill="#3c3c3c" textLength="24.5" lengthAdjust="spacingAndGlyphs" >1N5819/100V</text><circle cx="657.7" cy="1004.7" r="2.1" fill="#262829"/><path d="M657.7 1004.7V1064.6" stroke="#262829" stroke-width="1.4" fill="none"/><rect x="652.5" y="1015.9" width="10.4" height="2.8" fill="#262829"/><rect x="652.5" y="1020.3000000000001" width="10.4" height="2.8" fill="#262829"/><circle cx="657.7" cy="1035.8" r="2.1" fill="#262829"/><circle cx="657.7" cy="1064.6" r="2.1" fill="#262829"/><text x="664" y="1014.8" font-size="5" font-weight="normal" fill="#3c3c3c" textLength="10.0" lengthAdjust="spacingAndGlyphs" >C12</text><text x="666" y="1021.8" font-size="5" font-weight="normal" fill="#3c3c3c" textLength="22.0" lengthAdjust="spacingAndGlyphs" >2200uF</text><text x="666" y="1028.8" font-size="5" font-weight="normal" fill="#3c3c3c" textLength="10.0" lengthAdjust="spacingAndGlyphs" >16V</text><text x="599" y="1026.6" font-size="5.5" font-weight="normal" fill="#444" textLength="9.0" lengthAdjust="spacingAndGlyphs" >Ns2</text><path d="M594 1035.8H711.4" stroke="#444" stroke-width="1.2" fill="none"/><path d="M592.5 1036q3.2 2.0 0 4.0q3.2 2.0 0 4.0q3.2 2.0 0 4.0q3.2 2.0 0 4.0q3.2 2.0 0 4.0q3.2 2.0 0 4.0" stroke="#777" stroke-width="1.0" fill="none"/><text x="601" y="1047.0" font-size="5.5" font-weight="normal" fill="#444" textLength="8.0" lengthAdjust="spacingAndGlyphs" >Ns3</text><rect x="652.5999999999999" y="1047.0" width="10.4" height="2.8" fill="#262829"/><rect x="652.5999999999999" y="1051.8999999999999" width="10.4" height="2.8" fill="#262829"/><text x="665" y="1044.8" font-size="5" font-weight="normal" fill="#3c3c3c" textLength="9.0" lengthAdjust="spacingAndGlyphs" >C13</text><text x="666.5" y="1051.3" font-size="5" font-weight="normal" fill="#3c3c3c" textLength="20.5" lengthAdjust="spacingAndGlyphs" >2200uF</text><text x="666.5" y="1058.3" font-size="5" font-weight="normal" fill="#3c3c3c" textLength="9.5" lengthAdjust="spacingAndGlyphs" >16V</text><path d="M596.6 1060V1064.6H711.4" stroke="#262829" stroke-width="1.4" fill="none"/><path d="M633.0 1061.3999999999999L626.5999999999999 1064.6L633.0 1067.8Z" fill="#262829"/><path d="M626.5999999999999 1061.3999999999999V1067.8" stroke="#262829" stroke-width="1.4" fill="none"/><text x="627" y="1059.1" font-size="5" font-weight="normal" fill="#3c3c3c" textLength="7.0" lengthAdjust="spacingAndGlyphs" >D8</text><text x="634" y="1071.3" font-size="5" font-weight="normal" fill="#3c3c3c" textLength="24.5" lengthAdjust="spacingAndGlyphs" >1N5819/100V</text><path d="M581.1 1074.2H633.8V1088" stroke="#262829" stroke-width="1.4" fill="none"/><circle cx="581.1" cy="1074.2" r="2.1" fill="#262829"/><rect x="628.4" y="1086.8" width="10.8" height="2.8" fill="#262829"/><rect x="628.4" y="1091.6999999999998" width="10.8" height="2.8" fill="#262829"/><path d="M633.8 1093V1156" stroke="#262829" stroke-width="1.4" fill="none"/><path d="M633.8 1103H663.7V1117.4" stroke="#262829" stroke-width="1.4" fill="none"/><rect x="661.0500000000001" y="1117.4" width="5.3" height="15.0" fill="#eef3f6" stroke="#262829" stroke-width="1.2"/><path d="M663.7 1132.4V1156" stroke="#262829" stroke-width="1.4" fill="none"/><path d="M630.4 1118.6999999999998L633.8 1125.5L637.1999999999999 1118.6999999999998Z" fill="#262829"/><path d="M630.4 1125.5H637.1999999999999" stroke="#262829" stroke-width="1.4" fill="none"/><text x="638" y="1084.6" font-size="5" font-weight="normal" fill="#3c3c3c" textLength="7.0" lengthAdjust="spacingAndGlyphs" >C8</text><text x="640" y="1091.6" font-size="5" font-weight="normal" fill="#3c3c3c" textLength="15.0" lengthAdjust="spacingAndGlyphs" >680pF</text><text x="639" y="1098.8" font-size="5" font-weight="normal" fill="#3c3c3c" textLength="14.0" lengthAdjust="spacingAndGlyphs" >680V</text><text x="637" y="1116.8" font-size="5" font-weight="normal" fill="#3c3c3c" textLength="6.0" lengthAdjust="spacingAndGlyphs" >D5</text><text x="637" y="1130.8" font-size="5" font-weight="normal" fill="#3c3c3c" textLength="17.0" lengthAdjust="spacingAndGlyphs" >1N3822</text><text x="668.5" y="1122.8" font-size="5" font-weight="normal" fill="#3c3c3c" textLength="6.5" lengthAdjust="spacingAndGlyphs" >R1</text><text x="669" y="1129.8" font-size="5" font-weight="normal" fill="#3c3c3c" textLength="14.0" lengthAdjust="spacingAndGlyphs" >22kΩ</text><text x="669" y="1136.8" font-size="5" font-weight="normal" fill="#3c3c3c" textLength="7.0" lengthAdjust="spacingAndGlyphs" >2W</text><text x="637" y="1165.0" font-size="4.5" font-weight="normal" fill="#5a5a5a" textLength="18.6" lengthAdjust="spacingAndGlyphs" >4.7mH</text><circle cx="633.8" cy="1156" r="2.1" fill="#262829"/><rect x="355" y="1050.8" width="50.3" height="93.5" fill="none" stroke="#262829" stroke-width="2.6"/><text x="361.5" y="1102.3" font-size="10.5" font-weight="normal" fill="#505356" textLength="36.5" lengthAdjust="spacingAndGlyphs" stroke="#505356" stroke-width="0.55">UC3844</text><text x="382" y="1047.6" font-size="4.5" font-weight="normal" fill="#5a5a5a" textLength="3.0" lengthAdjust="spacingAndGlyphs" >7</text><text x="349" y="1053.1" font-size="4.5" font-weight="normal" fill="#5a5a5a" textLength="3.0" lengthAdjust="spacingAndGlyphs" >2</text><text x="349" y="1065.1" font-size="4.5" font-weight="normal" fill="#5a5a5a" textLength="3.0" lengthAdjust="spacingAndGlyphs" >1</text><text x="349" y="1103.1" font-size="4.5" font-weight="normal" fill="#5a5a5a" textLength="3.0" lengthAdjust="spacingAndGlyphs" >8</text><text x="349" y="1133.6" font-size="4.5" font-weight="normal" fill="#5a5a5a" textLength="3.0" lengthAdjust="spacingAndGlyphs" >4</text><text x="382" y="1151.6" font-size="4.5" font-weight="normal" fill="#5a5a5a" textLength="3.0" lengthAdjust="spacingAndGlyphs" >5</text><text x="406.5" y="1102.6" font-size="4.5" font-weight="normal" fill="#5a5a5a" textLength="3.0" lengthAdjust="spacingAndGlyphs" >6</text><text x="406.5" y="1123.1" font-size="4.5" font-weight="normal" fill="#5a5a5a" textLength="3.0" lengthAdjust="spacingAndGlyphs" >3</text><path d="M308.7 1034.4V1089.7H321.5M325.9 1089.7H339.6V1067.1" stroke="#262829" stroke-width="1.4" fill="none"/><path d="M308.7 1055H354" stroke="#262829" stroke-width="1.4" fill="none"/><circle cx="308.7" cy="1055" r="2.1" fill="#262829"/><path d="M308.7 1067.1H319M334.3 1067.1H354" stroke="#262829" stroke-width="1.4" fill="none"/><rect x="319" y="1064.6999999999998" width="15.300000000000011" height="4.8" fill="#eef3f6" stroke="#262829" stroke-width="1.2"/><circle cx="308.7" cy="1067.1" r="2.1" fill="#262829"/><circle cx="339.6" cy="1067.1" r="2.1" fill="#262829"/><rect x="320.3" y="1084.8" width="2.4" height="10" fill="#262829"/><rect x="324.7" y="1084.8" width="2.4" height="10" fill="#262829"/><text x="320" y="1061.9" font-size="4.8" font-weight="normal" fill="#3c3c3c" textLength="6.0" lengthAdjust="spacingAndGlyphs" >R8</text><text x="328" y="1061.9" font-size="4.8" font-weight="normal" fill="#3c3c3c" textLength="14.0" lengthAdjust="spacingAndGlyphs" >150kΩ</text><text x="320" y="1082.5" font-size="4.8" font-weight="normal" fill="#3c3c3c" textLength="7.0" lengthAdjust="spacingAndGlyphs" >C14</text><text x="328" y="1096.5" font-size="4.8" font-weight="normal" fill="#3c3c3c" textLength="13.5" lengthAdjust="spacingAndGlyphs" >100pF</text><path d="M354 1105.4H307.5V1125.5M307.5 1130.6V1156" stroke="#262829" stroke-width="1.4" fill="none"/><rect x="302.3" y="1124.1999999999998" width="10.4" height="2.8" fill="#262829"/><rect x="302.3" y="1129.1999999999998" width="10.4" height="2.8" fill="#262829"/><text x="296" y="1122.3" font-size="4.8" font-weight="normal" fill="#3c3c3c" textLength="4.5" lengthAdjust="spacingAndGlyphs" >C5</text><text x="280.5" y="1129.7" font-size="4.8" font-weight="normal" fill="#3c3c3c" textLength="18.5" lengthAdjust="spacingAndGlyphs" >0.01μF</text><circle cx="329.1" cy="1105.4" r="2.1" fill="#262829"/><path d="M329.1 1105.4V1115.2M329.1 1129.5V1145.7M329.1 1150.8V1156" stroke="#262829" stroke-width="1.4" fill="none"/><rect x="326.55" y="1115.2" width="5.1" height="14.299999999999955" fill="#eef3f6" stroke="#262829" stroke-width="1.2"/><rect x="323.90000000000003" y="1144.3" width="10.4" height="2.8" fill="#262829"/><rect x="323.90000000000003" y="1149.3999999999999" width="10.4" height="2.8" fill="#262829"/><text x="334" y="1117.2" font-size="4.8" font-weight="normal" fill="#3c3c3c" textLength="6.0" lengthAdjust="spacingAndGlyphs" >R6</text><text x="334" y="1125.2" font-size="4.8" font-weight="normal" fill="#3c3c3c" textLength="14.0" lengthAdjust="spacingAndGlyphs" >10kΩ</text><text x="336" y="1145.2" font-size="4.8" font-weight="normal" fill="#3c3c3c" textLength="6.0" lengthAdjust="spacingAndGlyphs" >C6</text><text x="336" y="1152.7" font-size="4.8" font-weight="normal" fill="#3c3c3c" textLength="17.0" lengthAdjust="spacingAndGlyphs" >1000pF</text><circle cx="329.1" cy="1135.4" r="2.1" fill="#262829"/><path d="M329.1 1135.4H354" stroke="#262829" stroke-width="1.4" fill="none"/><circle cx="307.5" cy="1156" r="2.1" fill="#262829"/><circle cx="329.1" cy="1156" r="2.1" fill="#262829"/><path d="M379.4 1144.4V1171.2" stroke="#262829" stroke-width="1.4" fill="none"/><circle cx="379.4" cy="1156" r="2.1" fill="#262829"/><rect x="373.90000000000003" y="1169.8" width="10.8" height="2.8" fill="#262829"/><path d="M405.4 1104.4H470.2M485.2 1104.4H566.6" stroke="#262829" stroke-width="1.4" fill="none"/><rect x="470.2" y="1102.0" width="15.0" height="4.8" fill="#eef3f6" stroke="#262829" stroke-width="1.2"/><text x="471" y="1099.5" font-size="4.8" font-weight="normal" fill="#3c3c3c" textLength="5.0" lengthAdjust="spacingAndGlyphs" >R7</text><text x="478.5" y="1099.5" font-size="4.8" font-weight="normal" fill="#3c3c3c" textLength="7.5" lengthAdjust="spacingAndGlyphs" >22Ω</text><circle cx="425" cy="1104.4" r="2.1" fill="#262829"/><path d="M425 1104.4V1156" stroke="#262829" stroke-width="1.4" fill="none"/><path d="M421.8 1141.5L425 1135.1L428.2 1141.5Z" fill="#262829"/><path d="M421.8 1135.1H428.2" stroke="#262829" stroke-width="1.4" fill="none"/><circle cx="425" cy="1156" r="2.1" fill="#262829"/><text x="430.4" y="1140.1" font-size="5" font-weight="normal" fill="#3c3c3c" textLength="22.9" lengthAdjust="spacingAndGlyphs" >1N4742D</text><path d="M405.4 1124.8H505.5M520.2 1124.8H581.1" stroke="#262829" stroke-width="1.4" fill="none"/><rect x="505.5" y="1122.3999999999999" width="14.700000000000045" height="4.8" fill="#eef3f6" stroke="#262829" stroke-width="1.2"/><text x="504" y="1119.8" font-size="4.8" font-weight="normal" fill="#3c3c3c" textLength="6.0" lengthAdjust="spacingAndGlyphs" >R8</text><text x="512" y="1119.8" font-size="4.8" font-weight="normal" fill="#3c3c3c" textLength="12.0" lengthAdjust="spacingAndGlyphs" >5kΩ</text><circle cx="481.6" cy="1124.8" r="2.1" fill="#262829"/><path d="M481.6 1124.8V1156" stroke="#262829" stroke-width="1.4" fill="none"/><rect x="476.5" y="1135.5" width="10.2" height="2.8" fill="#262829"/><rect x="476.5" y="1140.1999999999998" width="10.2" height="2.8" fill="#262829"/><circle cx="481.6" cy="1156" r="2.1" fill="#262829"/><text x="485" y="1133.2" font-size="4.8" font-weight="normal" fill="#3c3c3c" textLength="6.0" lengthAdjust="spacingAndGlyphs" >C1</text><text x="487" y="1141.7" font-size="4.8" font-weight="normal" fill="#3c3c3c" textLength="15.0" lengthAdjust="spacingAndGlyphs" >470pF</text><circle cx="550.9" cy="1104.4" r="2.1" fill="#262829"/><path d="M550.9 1104.4V1131.7M550.9 1146.4V1156" stroke="#262829" stroke-width="1.4" fill="none"/><rect x="548.1999999999999" y="1131.7" width="5.4" height="14.700000000000045" fill="#eef3f6" stroke="#262829" stroke-width="1.2"/><circle cx="550.9" cy="1156" r="2.1" fill="#262829"/><text x="556" y="1137.7" font-size="4.8" font-weight="normal" fill="#3c3c3c" textLength="8.0" lengthAdjust="spacingAndGlyphs" >R13</text><text x="557" y="1145.2" font-size="4.8" font-weight="normal" fill="#3c3c3c" textLength="14.0" lengthAdjust="spacingAndGlyphs" >470Ω</text><circle cx="575.2" cy="1100" r="10" fill="none" stroke="#7a7f83" stroke-width="0.9"/><path d="M566.6 1104.4V1095.5" stroke="#262829" stroke-width="1.3" fill="none"/><path d="M568.8 1094V1106" stroke="#262829" stroke-width="1.4" fill="none"/><path d="M568.8 1095.5H581.1M568.8 1100H581.1M568.8 1104.5H581.1" stroke="#262829" stroke-width="1.2" fill="none"/><path d="M570 1100L574 1098V1102Z" fill="#262829"/><path d="M581.1 1104.5V1133.2M581.1 1147.9V1156" stroke="#262829" stroke-width="1.4" fill="none"/><rect x="578.5" y="1133.2" width="5.2" height="14.700000000000045" fill="#eef3f6" stroke="#262829" stroke-width="1.2"/><circle cx="581.1" cy="1124.8" r="2.1" fill="#262829"/><circle cx="581.1" cy="1156" r="2.1" fill="#262829"/><text x="588.7" y="1089.3" font-size="5" font-weight="normal" fill="#3c3c3c" textLength="7.3" lengthAdjust="spacingAndGlyphs" >Q1</text><text x="588.7" y="1096.6" font-size="5" font-weight="normal" fill="#3c3c3c" textLength="26.6" lengthAdjust="spacingAndGlyphs" >SSS4N60B</text><text x="586" y="1137.7" font-size="4.8" font-weight="normal" fill="#3c3c3c" textLength="8.0" lengthAdjust="spacingAndGlyphs" >R10</text><text x="587.5" y="1145.2" font-size="4.8" font-weight="normal" fill="#3c3c3c" textLength="14.0" lengthAdjust="spacingAndGlyphs" >0.55Ω</text><text x="586" y="1152.7" font-size="4.8" font-weight="normal" fill="#3c3c3c" textLength="6.0" lengthAdjust="spacingAndGlyphs" >1W</text></svg>
</body>
</html>
